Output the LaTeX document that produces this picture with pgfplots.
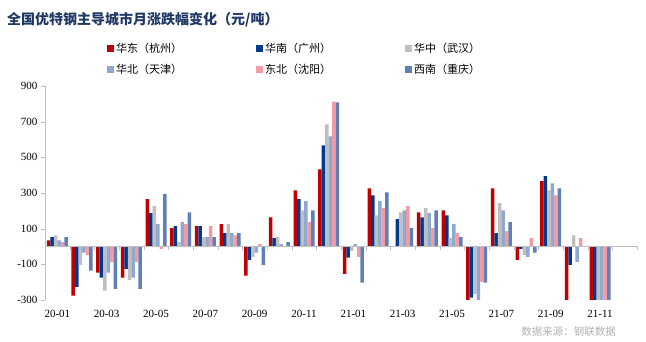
\documentclass[border=0pt]{standalone}
\usepackage{pgfplots}
\pgfplotsset{compat=1.18}
\usepackage{fontspec}
\setmainfont{Liberation Serif}
\newfontfamily\cjk{Noto Sans CJK SC}
\definecolor{cRed}{HTML}{C00000}
\definecolor{cNavy}{HTML}{003A8C}
\definecolor{cGrey}{HTML}{BFBFBF}
\definecolor{cLight}{HTML}{8EA8D0}
\definecolor{cPink}{HTML}{F29BA5}
\definecolor{cSteel}{HTML}{5F7FB6}
\definecolor{cTitle}{HTML}{1F3864}
\definecolor{cAxis}{HTML}{BFBFBF}
\begin{document}
\begin{tikzpicture}[x=1pt,y=1pt]
\useasboundingbox (0,0) rectangle (646,342);
\node[anchor=west, font=\cjk\bfseries\fontsize{14}{14}\selectfont, text=cTitle, inner sep=0] at (7,322) {全国优特钢主导城市月涨跌幅变化（元/吨）};
\begin{axis}[
  at={(45pt,42pt)}, anchor=south west, scale only axis, width=592pt, height=214pt,
  xmin=-0.5, xmax=23.5, ymin=-300, ymax=900,
  ybar=0pt, bar width=3.5pt,
  axis y line*=left, axis x line*=bottom,
  x axis line style={draw=none},
  y axis line style={draw=cAxis},
  ytick={-300,-100,...,900},
  ytick style={draw=cAxis}, tick align=outside, major tick length=4pt,
  xtick={0,2,...,22},
  xticklabels={20-01,20-03,20-05,20-07,20-09,20-11,21-01,21-03,21-05,21-07,21-09,21-11},
  xtick style={draw=none},
  xticklabel style={yshift=-2.5pt},
  tick label style={font=\fontsize{11}{11}\selectfont},
  /pgf/number format/assume math mode=true,
  yticklabel style={/pgf/number format/1000 sep={}},
  legend columns=3,
  legend style={at={(0.0997,1.2196)}, anchor=north west, draw=none, fill=none,
    font=\cjk\fontsize{11}{11}\selectfont,
    /tikz/every even column/.append style={column sep=72pt}, row sep=6pt},
  legend image code/.code={\fill[#1] (0pt,-3.5pt) rectangle (7pt,3.5pt);},
]
\addplot[fill=cRed, draw=none] coordinates {(0,35) (1,-276) (2,-147) (3,-175) (4,265) (5,103) (6,114) (7,125) (8,-164) (9,164) (10,315) (11,433) (12,-153) (13,326) (14,0) (15,192) (16,203) (17,-350) (18,326) (19,-75) (20,366) (21,-350) (22,-350)};
\addplot[fill=cNavy, draw=none] coordinates {(0,52) (1,-226) (2,-175) (3,-125) (4,187) (5,114) (6,114) (7,75) (8,-75) (9,47) (10,265) (11,567) (12,-63) (13,287) (14,153) (15,164) (16,175) (17,-287) (18,75) (19,-13) (20,394) (21,-103) (22,-350)};
\addplot[fill=cGrey, draw=none] coordinates {(0,63) (1,-103) (2,-248) (3,-187) (4,226) (5,24) (6,52) (7,125) (8,-58) (9,52) (10,203) (11,685) (12,-24) (13,175) (14,192) (15,215) (16,47) (17,-265) (18,243) (19,-47) (20,315) (21,63) (22,-350)};
\addplot[fill=cLight, draw=none] coordinates {(0,35) (1,-35) (2,-147) (3,-175) (4,125) (5,136) (6,52) (7,75) (8,-35) (9,13) (10,254) (11,618) (12,13) (13,254) (14,203) (15,187) (16,125) (17,-350) (18,203) (19,-58) (20,354) (21,-86) (22,-350)};
\addplot[fill=cPink, draw=none] coordinates {(0,24) (1,-47) (2,-86) (3,-86) (4,-13) (5,125) (6,114) (7,63) (8,13) (9,0) (10,136) (11,813) (12,-58) (13,215) (14,226) (15,103) (16,75) (17,-198) (18,86) (19,47) (20,287) (21,47) (22,-350)};
\addplot[fill=cSteel, draw=none] coordinates {(0,52) (1,-136) (2,-237) (3,-237) (4,293) (5,192) (6,52) (7,75) (8,-103) (9,24) (10,203) (11,808) (12,-203) (13,304) (14,103) (15,203) (16,52) (17,-203) (18,136) (19,-35) (20,326) (21,0) (22,-350)};
\legend{华东（杭州）,华南（广州）,华中（武汉）,华北（天津）,东北（沈阳）,西南（重庆）}
\end{axis}
\begin{axis}[
  at={(45pt,42pt)}, anchor=south west, scale only axis, width=592pt, height=214pt,
  xmin=-0.5, xmax=23.5, ymin=-300, ymax=900,
  axis x line=middle, axis y line=none,
  x axis line style={-, draw=cAxis},
  xtick={-0.5,0.5,...,23.5}, xticklabels={},
  xtick style={draw=cAxis}, tick align=outside, major tick length=4pt,
]
\addplot[draw=none] coordinates {(0,0)};
\end{axis}
\node[anchor=east, font=\cjk\fontsize{10.5}{10.5}\selectfont, text=black!30, inner sep=0] at (616,10) {数据来源：钢联数据};
\end{tikzpicture}
\end{document}
